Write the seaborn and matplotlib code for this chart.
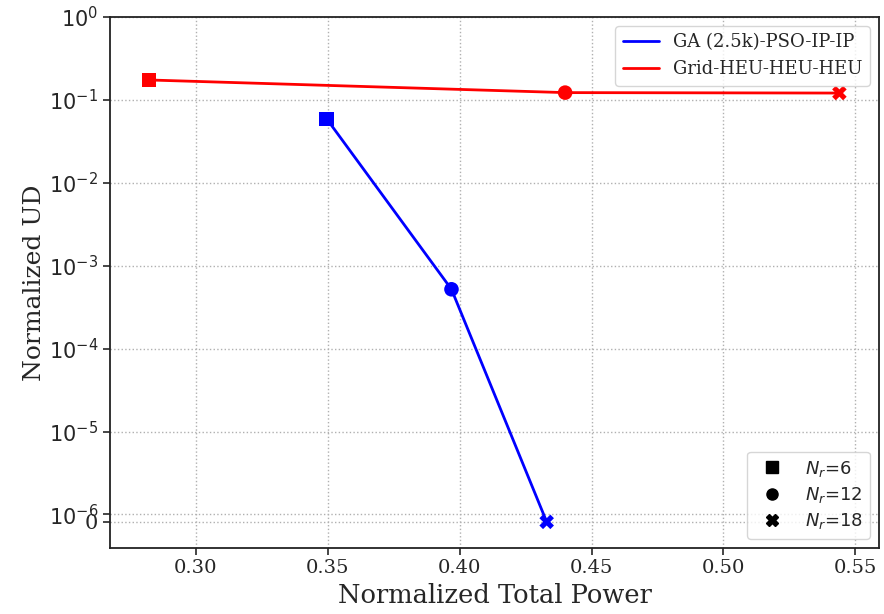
import numpy as np
import pandas as pd
import matplotlib
matplotlib.use('Agg')
import matplotlib.pyplot as plt
from matplotlib.lines import Line2D
import seaborn as sns

# values
nr_labels = ['$N_r$=6', '$N_r$=12', '$N_r$=18']
ga_power = [0.3496, 0.3969, 0.4330]
ga_ud = [0.059, 5.2e-4, 0.0]
grid_power = [0.2822, 0.4400, 0.5440]
grid_ud = [0.174, 0.1225, 0.121]
methods = ['GA (2.5k)-PSO-IP-IP', 'Grid-HEU-HEU-HEU']
colors = {'GA (2.5k)-PSO-IP-IP': 'blue', 'Grid-HEU-HEU-HEU': 'red'}
ytick_vals = [0, 1e-6, 1e-5, 1e-4, 1e-3, 1e-2, 1e-1, 1e0]
ytick_labels = ['0'] + [f'$10^{{{k}}}$' for k in range(-6, 1)]

df = pd.DataFrame({
    'power': ga_power + grid_power,
    'ud': ga_ud + grid_ud,
    'method': [methods[0]] * 3 + [methods[1]] * 3,
    'Nr': nr_labels * 2,
})

sns.set_style('ticks')
plt.rcParams['font.family'] = ['DejaVu Serif']
plt.rcParams['mathtext.fontset'] = 'dejavusans'

fig, ax = plt.subplots(figsize=(8.84, 6.14), dpi=100)

sns.lineplot(data=df, x='power', y='ud', hue='method', palette=colors,
             sort=False, lw=2, ax=ax, legend=False)
sns.scatterplot(data=df, x='power', y='ud', hue='method', style='Nr',
                palette=colors, markers={nr_labels[0]: 's', nr_labels[1]: 'o', nr_labels[2]: 'X'},
                s=110, edgecolor='none', ax=ax, legend=False, zorder=3)

ax.set_yscale('symlog', linthresh=1e-6, linscale=0.08)
ax.set_ylim(-1.67e-6, 1)
ax.set_xlim(0.2674, 0.559)
ax.set_yticks(ytick_vals)
ax.set_yticklabels(ytick_labels)
ax.yaxis.set_minor_locator(matplotlib.ticker.NullLocator())
ax.set_xticks([0.30, 0.35, 0.40, 0.45, 0.50, 0.55])
ax.tick_params(axis='x', labelsize=14, length=5, width=1.2)
ax.tick_params(axis='y', labelsize=15, length=5, width=1.2)

ax.grid(True, linestyle=':', color='#b0b0b0', lw=1)
for sp in ax.spines.values():
    sp.set_color('#222222')
    sp.set_linewidth(1.3)

ax.set_xlabel('Normalized Total Power', fontsize=18.5)
ax.set_ylabel('Normalized UD', fontsize=18, labelpad=2)

h1 = [Line2D([], [], color=colors[m], lw=2) for m in methods]
leg1 = ax.legend(h1, methods, loc='upper right', fontsize=13, framealpha=0.8)
ax.add_artist(leg1)
h2 = [Line2D([], [], color='black', marker=mk, ls='none', markersize=8)
      for mk in ['s', 'o', 'X']]
ax.legend(h2, nr_labels, loc='lower right', framealpha=0.8, labelspacing=0.35,
          prop={'family': 'DejaVu Sans', 'size': 13})

fig.subplots_adjust(left=0.1244, right=0.9943, top=0.9723, bottom=0.108)
fig.savefig('out.png', dpi=100)
